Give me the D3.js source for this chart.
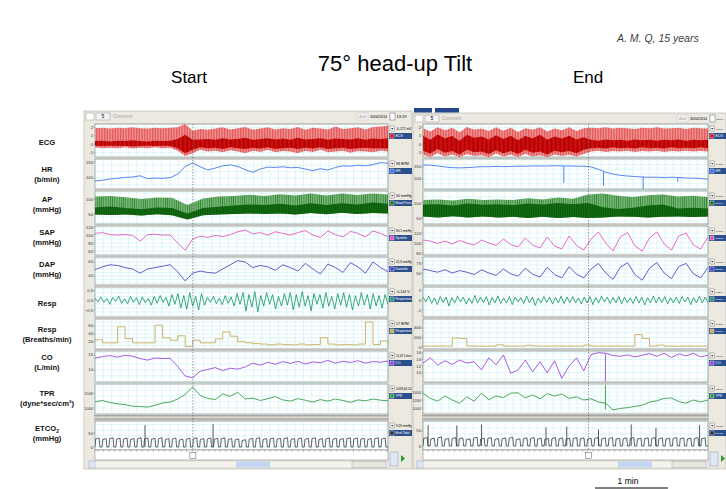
<!DOCTYPE html>
<html>
<head>
<meta charset="utf-8">
<script src="https://cdn.jsdelivr.net/npm/d3@7"></script>
<style>
  body { margin: 0; background: #fff; }
  svg text { font-family: "Liberation Sans", Arial, sans-serif; }
</style>
</head>
<body>
<div id="chart"></div>
<script>
// ---------- values (Start = left window, End = right window) ----------
// time axis, seconds of recording shown as mm:ss
const tickSecsStart = [780, 810, 840, 870, 900, 930, 960, 990, 1020];
const tickLabelsStart = ["13:00", "13:30", "14:00", "14:30", "15:00", "15:30", "16:00", "16:30", "17:00"];
const tickSecsEnd = [1200, 1230, 1260, 1290, 1320, 1350, 1380, 1410, 1440];
const tickLabelsEnd = ["20:00", "20:30", "21:00", "21:30", "22:00", "22:30", "23:00", "23:30", "24:00"];

// ECG envelope (mV): outer beat band and darker core
const ecgHiStart = [1.9, 1.95, 1.85, 1.95, 1.9, 2.0, 1.9, 1.85, 1.95, 1.9, 1.95, 2.0, 2.4, 1.6, 1.8, 1.7, 1.85, 2.0, 1.75, 1.9,
                    2.05, 1.7, 1.85, 2.0, 1.75, 1.9, 1.8, 2.05, 1.7, 1.95, 1.85, 1.75, 2.1, 1.8, 1.9, 2.0, 1.75, 2.05, 2.1, 2.2];
const ecgLoStart = [-0.4, -0.5, -0.45, -0.5, -0.4, -0.55, -0.45, -0.5, -0.4, -0.5, -0.45, -0.8, -1.45, -1.1, -0.7, -0.9, -0.8, -1.0, -0.75, -0.9,
                    -1.1, -0.8, -0.95, -0.7, -1.0, -0.85, -0.9, -1.1, -0.8, -0.95, -0.7, -1.0, -0.9, -0.8, -1.05, -0.85, -0.9, -1.0, -0.8, -0.9];
const ecgCoreHiStart = [0.35, 0.4, 0.3, 0.4, 0.35, 0.45, 0.35, 0.3, 0.4, 0.35, 0.4, 0.6, 1.1, 0.5, 0.55, 0.6, 0.5, 0.7, 0.55, 0.6,
                        0.75, 0.5, 0.6, 0.7, 0.55, 0.65, 0.5, 0.75, 0.55, 0.6, 0.7, 0.5, 0.65, 0.6, 0.55, 0.7, 0.5, 0.65, 0.6, 0.7];
const ecgCoreLoStart = [-0.2, -0.25, -0.2, -0.25, -0.2, -0.3, -0.25, -0.2, -0.25, -0.2, -0.25, -0.5, -1.1, -0.7, -0.4, -0.5, -0.45, -0.6, -0.4, -0.5,
                        -0.6, -0.45, -0.55, -0.4, -0.6, -0.5, -0.45, -0.6, -0.45, -0.55, -0.4, -0.6, -0.5, -0.45, -0.6, -0.5, -0.45, -0.55, -0.5, -0.55];
const ecgHiEnd = [1.9, 1.5, 2.0, 1.65, 1.95, 1.4, 2.05, 1.7, 1.85, 1.55, 2.0, 1.6, 1.95, 1.45, 1.9, 1.7, 2.0, 1.5, 1.85, 1.65,
                  2.0, 1.55, 1.9, 1.95, 1.9, 2.0, 1.85, 1.95, 1.9, 1.8, 1.95, 1.9, 2.0, 1.85, 1.9, 1.95, 1.8, 1.95, 1.9, 1.85];
const ecgLoEnd = [-1.3, -1.55, -1.1, -1.5, -1.25, -1.6, -1.2, -1.45, -1.35, -1.6, -1.15, -1.5, -1.3, -1.55, -1.2, -1.5, -1.35, -1.6, -1.25, -1.45,
                  -1.3, -1.5, -1.2, -0.9, -0.8, -0.95, -0.85, -0.9, -0.8, -0.95, -0.85, -0.9, -0.8, -0.95, -0.85, -0.9, -0.8, -0.9, -0.85, -0.9];
const ecgCoreHiEnd = [1.0, 0.5, 1.15, 0.7, 0.95, 0.4, 1.1, 0.75, 0.9, 0.55, 1.05, 0.6, 1.0, 0.45, 0.95, 0.7, 1.1, 0.5, 0.9, 0.65,
                      1.0, 0.55, 0.8, 0.5, 0.4, 0.55, 0.45, 0.5, 0.4, 0.55, 0.45, 0.5, 0.4, 0.5, 0.45, 0.55, 0.4, 0.5, 0.45, 0.5];
const ecgCoreLoEnd = [-0.8, -1.15, -0.6, -1.05, -0.85, -1.25, -0.7, -1.0, -0.9, -1.2, -0.75, -1.1, -0.85, -1.2, -0.7, -1.05, -0.9, -1.25, -0.8, -1.0,
                      -0.85, -1.1, -0.7, -0.5, -0.45, -0.55, -0.4, -0.5, -0.45, -0.55, -0.4, -0.5, -0.45, -0.55, -0.4, -0.5, -0.45, -0.5, -0.4, -0.5];

// heart rate (b/min)
const hrStart = [91, 93, 97, 99, 102, 103, 107, 98, 100, 99, 101, 112, 136, 147, 135, 125, 131, 138, 141, 136,
                 126, 118, 128, 134, 133, 135, 132, 133, 128, 123, 129, 125, 133, 138, 137, 140, 138, 142, 148, 146];
const hrEnd = [158, 157, 154, 150, 147, 146, 147, 149, 151, 151, 152, 151, 152, 153, 153, 154, 154, 154, 155, 154,
               154, 153, 153, 150, 140, 128, 120, 115, 112, 110, 108, 107, 107, 106, 107, 106, 104, 103, 102, 99];
const hrDipsEnd = [[1322.6, 154, 83], [1359.8, 130, 71], [1397, 109, 58], [1429.5, 106, 88]];

// arterial pressure envelope (mmHg)
const apHiStart = [108, 110, 106, 100, 105, 104, 80, 102, 108, 110, 114, 110, 116, 112, 118, 112, 118, 113, 118, 115];
const apLoStart = [48, 47, 48, 45, 49, 46, 32, 46, 48, 50, 52, 50, 52, 48, 53, 49, 54, 50, 53, 52];
const apCoreStart = [72, 75, 70, 66, 72, 70, 52, 70, 74, 78, 82, 80, 84, 78, 86, 80, 86, 82, 88, 84];
const apHiEnd = [110, 112, 108, 114, 110, 112, 110, 116, 112, 118, 114, 128, 132, 124, 120, 126, 128, 122, 124, 120];
const apLoEnd = [55, 52, 56, 52, 55, 52, 54, 50, 54, 50, 53, 50, 52, 55, 54, 52, 54, 55, 53, 55];
const apCoreEnd = [95, 96, 92, 98, 94, 96, 93, 98, 95, 100, 96, 100, 86, 80, 84, 92, 95, 82, 84, 82];

// systolic / diastolic pressure (mmHg)
const sapStart = [104, 106, 101, 100, 101, 99, 85, 101, 102, 100, 100, 80, 62, 90, 97, 94, 99, 96, 101, 108,
                  112, 103, 106, 100, 108, 104, 100, 106, 111, 100, 94, 110, 101, 95, 109, 104, 95, 110, 104, 96];
const sapEnd = [106, 104, 99, 104, 98, 105, 100, 96, 106, 100, 95, 108, 97, 92, 110, 96, 90, 112, 94, 88,
                114, 95, 86, 108, 122, 100, 84, 112, 121, 94, 84, 110, 122, 98, 86, 114, 120, 96, 88, 112];
const dapStart = [49, 53, 56, 55, 52, 50, 44, 50, 52, 54, 56, 46, 33, 44, 47, 45, 44, 50, 56, 62,
                  60, 52, 55, 53, 48, 56, 52, 47, 58, 50, 43, 57, 52, 45, 59, 53, 44, 60, 52, 46];
const dapEnd = [60, 56, 52, 58, 50, 56, 52, 46, 58, 50, 44, 60, 48, 42, 62, 47, 40, 64, 46, 38,
                66, 47, 38, 60, 74, 50, 34, 64, 76, 46, 32, 62, 76, 50, 36, 66, 74, 48, 38, 64];

// respiration signal (V), successive peaks and troughs
const respStart = [0.12, -0.08, 0.18, -0.12, 0.1, -0.2, 0.15, -0.05, 0.22, -0.15,
                   0.08, -0.18, 0.2, -0.1, 0.14, -0.22, 0.18, -0.12, 0.1, -0.25,
                   0.2, -0.15, 0.25, -0.1, 0.15, -0.3, 0.3, -0.2, 0.35, -0.4,
                   0.25, -0.45, 0.4, -0.3, 0.2, -0.5, 0.35, -0.25, 0.15, -0.1,
                   0.2, -0.18, 0.12, -0.22, 0.25, -0.15, 0.18, -0.3, 0.35, -0.2,
                   0.4, -0.55, 0.3, -0.35, 0.45, -0.6, 0.25, -0.3, 0.4, -0.2,
                   0.3, -0.45, 0.2, -0.3, 0.35, -0.25, 0.4, -0.5, 0.3, -0.35,
                   0.45, -0.3, 0.25, -0.55, 0.35, -0.2, 0.3, -0.4, 0.4, -0.3,
                   0.2, -0.45, 0.35, -0.25, 0.4, -0.35, 0.3, -0.5, 0.25, -0.3,
                   0.4, -0.25, 0.3, -0.45, 0.35, -0.3, 0.25, -0.4, 0.3, -0.2];
const respEnd = [0.3, -0.2, 0.4, -0.35, 0.2, -0.45, 0.35, -0.25, 0.3, -0.6,
                 0.25, -0.3, 0.4, -0.2, 0.3, -0.4, 0.2, -0.35, 0.45, -0.3,
                 0.3, -0.25, 0.35, -0.5, 0.25, -0.3, 0.4, -0.35, 0.2, -0.3,
                 0.35, -0.45, 0.3, -0.2, 0.25, -0.35, 0.4, -0.3, 0.3, -0.55,
                 0.2, -0.3, 0.35, -0.25, 0.3, -0.4, 0.25, -0.3, 0.4, -0.35,
                 0.3, -0.25, 0.35, -0.3, 0.2, -0.4, 0.3, -0.3, 0.35, -0.45,
                 0.25, -0.3, 0.4, -0.2, 0.3, -0.35, 0.25, -0.3, 0.35, -0.4,
                 0.3, -0.25, 0.2, -0.35, 0.35, -0.3, 0.3, -0.5, 0.25, -0.3,
                 0.4, -0.3, 0.3, -0.25, 0.35, -0.4, 0.25, -0.3, 0.3, -0.35,
                 0.35, -0.2, 0.3, -0.45, 0.25, -0.3, 0.4, -0.3, 0.3, -0.25];

// respiratory rate (breaths/min)
const rrStart = [25, 17, 17, 58, 28, 17, 17, 17, 62, 30, 24, 35, 8, 24, 17, 17, 27, 45, 34, 20,
                 17, 15, 14, 12, 14, 13, 12, 14, 12, 13, 30, 14, 12, 13, 12, 14, 70, 13, 22, 14];
const rrEnd = [20, 18, 22, 20, 190, 180, 22, 20, 18, 20, 45, 20, 18, 20, 35, 20, 18, 20, 22, 18,
               20, 20, 40, 20, 18, 20, 22, 18, 20, 260, 180, 20, 40, 20, 18, 20, 22, 18, 20, 22];

// cardiac output (L/min)
const coStart = [13.9, 14.5, 14.8, 14.3, 14.9, 14.6, 13.8, 13.3, 14.0, 13.8, 13.9, 11.2, 8.0, 7.4, 9.6, 10.2, 10.8, 9.8, 10.6, 10.3,
                 11.0, 12.3, 11.6, 12.6, 11.9, 12.8, 12.2, 12.9, 12.0, 12.7, 12.4, 13.2, 12.3, 12.9, 12.5, 13.1, 12.3, 12.8, 12.6, 13.0];
const coEnd = [12.9, 14.5, 12.3, 13.6, 12.5, 13.8, 12.9, 13.3, 10.8, 14.5, 12.4, 15.4, 9.8, 10.8, 13.8, 10.2, 13.3, 9.9, 13.6, 8.2,
               12.0, 14.5, 10.5, 15.5, 16.1, 15.9, 15.2, 15.0, 15.4, 14.8, 15.3, 15.8, 15.0, 15.9, 14.6, 15.7, 15.1, 15.9, 14.8, 15.3];
const coSpikesEnd = [[1361.6, 15.8, 7.2]];

// total peripheral resistance
const tprStart = [1210, 1250, 1180, 1140, 1110, 1060, 1050, 1030, 1090, 1170, 1200, 1300, 1450, 1700, 1420, 1320, 1280, 1470, 1390, 1520,
                  1300, 1330, 1250, 1310, 1380, 1270, 1230, 1310, 1260, 1200, 1280, 1230, 1300, 1250, 1190, 1270, 1240, 1300, 1260, 1240];
const tprEnd = [1370, 1240, 1170, 1300, 1200, 1120, 1280, 1170, 1370, 1210, 1300, 1260, 1370, 1380, 1250, 1330, 1230, 1360, 1300, 1350,
                1240, 1280, 1200, 1230, 1150, 1120, 950, 990, 1010, 1040, 1070, 1150, 1180, 1240, 1250, 1160, 1120, 1200, 1150, 1200];
const tprSpikesEnd = [[1361.6, 1580, 960]];

// end-tidal CO2, plateau of each breath (mmHg), plus tall spikes [sec, mmHg]
const etco2Start = [32, 30, 33, 31, 32, 30, 33, 32, 31, 33, 30, 32, 28, 31, 33, 30, 32, 31, 33, 30, 29,
                    26, 31, 33, 30, 32, 31, 33, 30, 32, 31, 33, 30, 32, 31, 30, 33, 32, 31, 30, 33, 32];
const etco2End = [28, 26, 30, 25, 28, 27, 24, 29, 26, 28, 25, 27, 29, 24, 27, 28, 26, 25, 28, 27,
                  26, 28, 27, 26, 28, 27, 28, 26, 27, 28, 26, 27, 28, 27, 26, 28, 27, 26, 28, 27];
const etco2SpikesStart = [[802.5, 78], [863.7, 82]];
const etco2SpikesEnd = [[1195.4, 70], [1222.3, 68], [1245.5, 72], [1305.9, 62], [1325.4, 65],
                        [1355.1, 55], [1385.8, 72], [1409, 60], [1449.9, 70]];

// legend read-outs beside each channel
const legendStart = [["-0,172 mV", "ECG"], ["98 BPM", "HR"], ["50 mmHg", "Blood Press"], ["84,1 mmHg", "Systolic"],
                     ["41,6 mmHg", "Diastolic"], ["-0,144 V", "Respiration"], ["17 BPM", "Respiration"],
                     ["11,47 L/min", "CO"], ["1093,64 20", "TPR"], ["9,29 mmHg", "End Tidal"]];
const legendEnd = [["0,503 mV", "ECG"], ["149 BPM", "HR"], ["50 mmHg", "Blood Pr"], ["96,7 mmHg", "Systolic"],
                   ["75,8 mmHg", "Diastolic"], ["0,527 V", "Respiration"], ["16 BPM", "Respiration"],
                   ["16,75 L/min", "CO"], ["1171,84", "TPR"], ["36,23 mmHg", "End Tidal"]];

// ---------- layout ----------
const rows = [
  {key: "ecg",   y0: 124, y1: 157, ly: 142, label: ["ECG"],                  color: "#d01010", dom: [[2.4, -1.56], [2.4, -1.56]], ticks: [[2, 1, 0, -1], [2, 1, 0, -1]]},
  {key: "hr",    y0: 159, y1: 189, ly: 174, label: ["HR", "(b/min)"],        color: "#3f6ff0", dom: [[159.4, 65.6], [183, 58]], ticks: [[150, 100], [150, 100]]},
  {key: "ap",    y0: 191, y1: 224, ly: 204, label: ["AP", "(mmHg)"],         color: "#0d650d", dom: [[126.7, 16.7], [140, 30]], ticks: [[100, 50], [100, 50]]},
  {key: "sap",   y0: 226, y1: 255, ly: 237, label: ["SAP", "(mmHg)"],        color: "#e050c0", dom: [[122.5, 50], [134, 76]], ticks: [[120, 100, 80, 60], [120, 100, 80]]},
  {key: "dap",   y0: 257, y1: 285, ly: 269, label: ["DAP", "(mmHg)"],        color: "#4b3fc8", dom: [[67.1, 27.1], [90, 20]], ticks: [[60, 40], [75, 50]]},
  {key: "resp",  y0: 287, y1: 317, ly: 303, label: ["Resp"],                 color: "#1a9a6a", dom: [[0.69, -0.86], [1.3, -1.7]], ticks: [[0.5, 0, -0.5], [1, 0, -1]]},
  {key: "rr",    y0: 319, y1: 349, ly: 334, label: ["Resp", "(Breaths/min)"], color: "#c9a650", dom: [[77.8, 1.4], [589, -42]], ticks: [[60, 40, 20], [400, 200, 0]]},
  {key: "co",    y0: 351, y1: 382, ly: 362, label: ["CO", "(L/min)"],        color: "#9a3fe0", dom: [[16.33, 6], [16.6, 7.1]], ticks: [[15, 10], [16, 14, 12, 10]]},
  {key: "tpr",   y0: 384, y1: 414, ly: 398, label: ["TPR", "(dyne*sec/cm\u00b2)"], color: "#2e9a3e", dom: [[1800, 800], [1600, 850]], ticks: [[1500, 1000], [1400, 1200, 1000]]},
  {key: "etco2", y0: 421, y1: 450, ly: 433, label: ["ETCO", "(mmHg)"],       color: "#303030", dom: [[92.9, -10.7], [83.3, -13.3]], ticks: [[50, 0], [50, 0]]}
];

const panels = [
  {x0: 95, x1: 388, t0: 757.5, t1: 1021, wx0: 84, wx1: 412, wy0: 111, toolY: 113, legendX: 389, cursor: 845.5,
   thumb: [236, 270], clock: "13:19", ticks: tickSecsStart, tickLabels: tickLabelsStart, legend: legendStart,
   ecg: [ecgHiStart, ecgLoStart, ecgCoreHiStart, ecgCoreLoStart], ap: [apHiStart, apLoStart, apCoreStart],
   hr: hrStart, sap: sapStart, dap: dapStart, resp: respStart, rr: rrStart, co: coStart, tpr: tprStart,
   etco2: etco2Start, etco2Spikes: etco2SpikesStart, dips: {hr: [], co: [], tpr: []}},
  {x0: 423, x1: 708, t0: 1190.6, t1: 1457.8, wx0: 413, wx1: 726, wy0: 113, toolY: 115, legendX: 709, cursor: 1345.8,
   thumb: [618, 652], clock: "22:24,5", ticks: tickSecsEnd, tickLabels: tickLabelsEnd, legend: legendEnd,
   ecg: [ecgHiEnd, ecgLoEnd, ecgCoreHiEnd, ecgCoreLoEnd], ap: [apHiEnd, apLoEnd, apCoreEnd],
   hr: hrEnd, sap: sapEnd, dap: dapEnd, resp: respEnd, rr: rrEnd, co: coEnd, tpr: tprEnd,
   etco2: etco2End, etco2Spikes: etco2SpikesEnd, dips: {hr: hrDipsEnd, co: coSpikesEnd, tpr: tprSpikesEnd}}
];

const svg = d3.select("#chart").append("svg")
  .attr("width", 726)
  .attr("height", 489);

const defs = svg.append("defs");

// stripe textures for the dense ECG and AP beats
function stripes(id, bg, fg, w) {
  const pat = defs.append("pattern").attr("id", id)
    .attr("patternUnits", "userSpaceOnUse").attr("width", w).attr("height", 10);
  pat.append("rect").attr("width", w).attr("height", 10).attr("fill", bg);
  pat.append("rect").attr("width", 0.7).attr("height", 10).attr("fill", fg);
}
stripes("ecgLight", "#f29a9a", "#e04848", 1.6);
stripes("ecgDark", "#d41414", "#b00000", 1.3);
stripes("apLight", "#74b474", "#2f852f", 2.2);
stripes("apDark", "#127012", "#0a500a", 1.8);

// shrink a small text until it fits the room it has (the windows are narrow)
function fit(sel, maxW) {
  const w = sel.node().getComputedTextLength();
  if (w > maxW) {
    const fs = parseFloat(sel.attr("font-size") || sel.node().parentNode.getAttribute("font-size"));
    sel.attr("font-size", (fs * maxW / w).toFixed(2));
  }
  return sel;
}

// ---------- titles ----------
svg.append("text").attr("x", 617).attr("y", 42)
  .attr("font-size", 10.5).attr("font-style", "italic").attr("fill", "#404040")
  .text("A. M. Q, 15 years");
svg.append("text").attr("x", 395).attr("y", 71)
  .attr("text-anchor", "middle").attr("font-size", 22)
  .text("75\u00b0 head-up Tilt");
svg.append("text").attr("x", 189).attr("y", 83)
  .attr("text-anchor", "middle").attr("font-size", 17).text("Start");
svg.append("text").attr("x", 588).attr("y", 83)
  .attr("text-anchor", "middle").attr("font-size", 17).text("End");

// channel names on the far left
rows.forEach(r => {
  const t = svg.append("text")
    .attr("x", 47)
    .attr("text-anchor", "middle")
    .attr("font-size", 7.6)
    .attr("font-weight", "bold")
    .attr("fill", "#111");
  const first = r.label.length === 1 ? r.ly + 2.5 : r.ly - 2;
  t.append("tspan").attr("x", 47).attr("y", first).text(r.label[0]);
  if (r.key === "etco2") {
    t.append("tspan").attr("font-size", 5).attr("dy", 1.5).text("2");
  }
  if (r.label.length > 1) {
    t.append("tspan").attr("x", 47).attr("y", first + 10).text(r.label[1]);
  }
});

// ---------- the two recording windows ----------
panels.forEach((p, pi) => {
  const g = svg.append("g");
  const x = d3.scaleLinear().domain([p.t0, p.t1]).range([p.x0, p.x1]);
  const times = n => d3.range(n).map(i => p.t0 + i * (p.t1 - p.t0) / (n - 1));
  const room = xx => p.wx1 - xx - (pi === 1 ? 3 : 0.5);   // text room up to the window (or page) edge

  // window frame
  g.append("rect").attr("x", p.wx0).attr("y", p.wy0)
    .attr("width", p.wx1 - p.wx0).attr("height", 469 - p.wy0)
    .attr("fill", "#ebe9e0").attr("stroke", "#b0aea4").attr("stroke-width", 0.6);

  if (pi === 1) {
    g.append("rect").attr("x", 414).attr("y", 108).attr("width", 18).attr("height", 4.5).attr("fill", "#23478a");
    g.append("rect").attr("x", 435).attr("y", 108).attr("width", 24).attr("height", 4.5).attr("fill", "#23478a");
  }

  // toolbar
  const ty = p.toolY;
  g.append("rect").attr("x", p.wx0 + 2).attr("y", ty).attr("width", 8).attr("height", 7)
    .attr("fill", "#fff").attr("stroke", "#999").attr("stroke-width", 0.5);
  g.append("rect").attr("x", p.wx0 + 12).attr("y", ty).attr("width", 14).attr("height", 7)
    .attr("fill", "#f4f4f4").attr("stroke", "#999").attr("stroke-width", 0.5);
  g.append("text").attr("x", p.wx0 + 19).attr("y", ty + 5.3).attr("text-anchor", "middle")
    .attr("font-size", 5).text("5");
  g.append("text").attr("x", p.wx0 + 29).attr("y", ty + 5.3).attr("font-size", 4.5)
    .attr("fill", "#a8a8a8").text("Comment");
  g.append("rect").attr("x", p.x1 - 31).attr("y", ty).attr("width", 11).attr("height", 7)
    .attr("fill", "#f2f1ec").attr("stroke", "#c8c8c8").attr("stroke-width", 0.5);
  g.append("text").attr("x", p.x1 - 25.5).attr("y", ty + 5).attr("text-anchor", "middle")
    .attr("font-size", 4).attr("fill", "#aaa").text("Add");
  fit(g.append("text").attr("x", p.x1 - 18).attr("y", ty + 5).attr("font-size", 4).text("30/04/2014"), 17);
  g.append("rect").attr("x", p.x1 + 2).attr("y", ty).attr("width", 5).attr("height", 7)
    .attr("fill", "#fff").attr("stroke", "#666").attr("stroke-width", 0.5);
  fit(g.append("text").attr("x", p.x1 + 8.5).attr("y", ty + 5).attr("font-size", 4).text(p.clock), room(p.x1 + 8.5));

  const clipId = "clip" + pi;
  defs.append("clipPath").attr("id", clipId).append("rect")
    .attr("x", p.x0).attr("y", 120).attr("width", p.x1 - p.x0).attr("height", 332);

  // separator between TPR and ETCO2
  g.append("rect").attr("x", p.x0 - 1).attr("y", 414.5).attr("width", p.x1 - p.x0 + 2).attr("height", 6)
    .attr("fill", "#dcdad2");
  [415.8, 419].forEach(yy => g.append("line").attr("x1", p.x0 - 1).attr("x2", p.x1 + 1)
    .attr("y1", yy).attr("y2", yy).attr("stroke", "#6f6f6f").attr("stroke-width", 0.7));

  rows.forEach((r, ri) => {
    const y = d3.scaleLinear().domain(r.dom[pi]).range([r.y0, r.y1]);
    r.yScale = r.yScale || [];
    r.yScale[pi] = y;

    // channel box and grid
    g.append("rect").attr("x", p.x0).attr("y", r.y0).attr("width", p.x1 - p.x0).attr("height", r.y1 - r.y0)
      .attr("fill", "#fff").attr("stroke", "#8a8a8a").attr("stroke-width", 0.8);
    const grid = g.append("g").attr("stroke", "#bdecf0").attr("stroke-width", 0.5);
    d3.range(Math.ceil(p.t0 / 7.5) * 7.5, p.t1, 7.5).forEach(t => {
      grid.append("line").attr("x1", x(t)).attr("x2", x(t)).attr("y1", r.y0 + 0.5).attr("y2", r.y1 - 0.5);
    });
    y.ticks(6).forEach(v => {
      grid.append("line").attr("x1", p.x0).attr("x2", p.x1).attr("y1", y(v)).attr("y2", y(v));
    });

    // y axis tick labels
    const ax = g.append("g").attr("font-size", 4.2).attr("fill", "#333");
    r.ticks[pi].forEach(v => {
      ax.append("line").attr("x1", p.x0 - 1.5).attr("x2", p.x0).attr("y1", y(v)).attr("y2", y(v))
        .attr("stroke", "#555").attr("stroke-width", 0.4);
      fit(ax.append("text").attr("x", p.x0 - 2).attr("y", y(v) + 1.5).attr("text-anchor", "end").attr("font-size", 4.2)
        .text(r.key === "resp" && pi === 0 ? d3.format(".1f")(v).replace(".", ",") : String(v)), 8.5);
    });

    // legend block
    const lg = g.append("g");
    const [val, name] = p.legend[ri];
    lg.append("rect").attr("x", p.legendX + 1).attr("y", r.y0 + 2).attr("width", 4.5).attr("height", 5)
      .attr("fill", "#fff").attr("stroke", "#555").attr("stroke-width", 0.4);
    lg.append("path").attr("d", `M${p.legendX + 2},${r.y0 + 4}h2.5l-1.25,1.6z`).attr("fill", "#222");
    fit(lg.append("text").attr("x", p.legendX + 7).attr("y", r.y0 + 6.3).attr("font-size", 3.6).text(val),
        room(p.legendX + 7));
    lg.append("rect").attr("x", p.legendX).attr("y", r.y0 + 9).attr("width", Math.min(23, p.wx1 - p.legendX))
      .attr("height", 6).attr("fill", "#2b4f8c");
    lg.append("rect").attr("x", p.legendX + 1).attr("y", r.y0 + 10).attr("width", 4).attr("height", 4)
      .attr("fill", r.key === "ecg" ? "#e01010" : r.key === "ap" ? "#1c7a1c" : r.color)
      .attr("stroke", "#fff").attr("stroke-width", 0.4);
    fit(lg.append("text").attr("x", p.legendX + 6.5).attr("y", r.y0 + 13.4).attr("font-size", 3.4)
      .attr("fill", "#fff").text(name), room(p.legendX + 6.5));
  });

  const plot = g.append("g").attr("clip-path", `url(#${clipId})`);
  const Y = key => rows.find(r => r.key === key).yScale[pi];

  // banded channels: light beat band with a darker core
  const band = (hi, lo, key) => {
    const ts = times(hi.length), y = Y(key);
    return d3.area().x((d, i) => x(ts[i])).y0((d, i) => y(lo[i])).y1(d => y(d))(hi);
  };
  plot.append("path").attr("d", band(p.ecg[0], p.ecg[1], "ecg")).attr("fill", "url(#ecgLight)");
  plot.append("path").attr("d", band(p.ecg[2], p.ecg[3], "ecg")).attr("fill", "url(#ecgDark)");
  plot.append("path").attr("d", band(p.ap[0], p.ap[1], "ap")).attr("fill", "url(#apLight)");
  plot.append("path").attr("d", band(p.ap[2], p.ap[1], "ap")).attr("fill", "url(#apDark)");

  // line channels
  const trace = (key, values, curve) => {
    const ts = times(values.length), y = Y(key);
    const color = rows.find(r => r.key === key).color;
    plot.append("path")
      .attr("d", d3.line().x((d, i) => x(ts[i])).y(d => y(d)).curve(curve || d3.curveLinear)(values))
      .attr("fill", "none").attr("stroke", color).attr("stroke-width", 0.85);
    (p.dips[key] || []).forEach(([t, a, b]) => {
      plot.append("line").attr("x1", x(t)).attr("x2", x(t)).attr("y1", y(a)).attr("y2", y(b))
        .attr("stroke", color).attr("stroke-width", 0.9);
    });
  };
  trace("hr", p.hr);
  trace("sap", p.sap);
  trace("dap", p.dap);
  trace("resp", p.resp);
  trace("rr", p.rr, d3.curveStepAfter);
  trace("co", p.co);
  trace("tpr", p.tpr);

  // ETCO2: one square-ish capnogram cycle per breath
  const ye = Y("etco2");
  const dt = (p.t1 - p.t0) / p.etco2.length;
  const capPts = [];
  p.etco2.forEach((v, i) => {
    const s = p.t0 + i * dt;
    capPts.push([s, 0], [s + dt * 0.1, v * 0.9], [s + dt * 0.6, v], [s + dt * 0.7, 0]);
  });
  capPts.push([p.t1, 0]);
  plot.append("path")
    .attr("d", d3.line().x(d => x(d[0])).y(d => ye(d[1]))(capPts))
    .attr("fill", "none").attr("stroke", "#303030").attr("stroke-width", 0.75);
  p.etco2Spikes.forEach(([t, v]) => {
    plot.append("line").attr("x1", x(t)).attr("x2", x(t)).attr("y1", ye(0)).attr("y2", ye(v))
      .attr("stroke", "#303030").attr("stroke-width", 0.8);
  });

  // cursor at the tilt event
  g.append("line").attr("x1", x(p.cursor)).attr("x2", x(p.cursor)).attr("y1", 124).attr("y2", 451)
    .attr("stroke", "#555").attr("stroke-width", 0.6).attr("stroke-dasharray", "1.5,1.5");

  // time axis
  g.append("rect").attr("x", p.x0).attr("y", 450).attr("width", p.x1 - p.x0).attr("height", 10)
    .attr("fill", "#fff").attr("stroke", "#8a8a8a").attr("stroke-width", 0.6);
  const ta = g.append("g").attr("clip-path", `url(#${clipId})`);
  d3.range(Math.ceil(p.t0 / 5) * 5, p.t1, 5).forEach(t => {
    ta.append("line").attr("x1", x(t)).attr("x2", x(t)).attr("y1", 450).attr("y2", t % 30 === 0 ? 453 : 451.5)
      .attr("stroke", "#444").attr("stroke-width", 0.4);
  });
  p.ticks.forEach((t, i) => {
    ta.append("text").attr("x", x(t)).attr("y", 457.5).attr("text-anchor", "middle")
      .attr("font-size", 4.2).attr("fill", "#333").text(p.tickLabels[i]);
  });
  g.append("rect").attr("x", x(p.cursor) - 3).attr("y", 452.5).attr("width", 6).attr("height", 6)
    .attr("fill", "#fff").attr("stroke", "#555").attr("stroke-width", 0.5);

  // scroll bar
  g.append("rect").attr("x", p.x0 - 6).attr("y", 461).attr("width", p.x1 - p.x0 + 6).attr("height", 7)
    .attr("fill", "#f3f2ec").attr("stroke", "#c4c2b8").attr("stroke-width", 0.5);
  g.append("rect").attr("x", p.x0 - 6).attr("y", 461).attr("width", 6).attr("height", 7)
    .attr("fill", "#dfe7f5").attr("stroke", "#9fb3d6").attr("stroke-width", 0.5);
  g.append("rect").attr("x", p.thumb[0]).attr("y", 461.5).attr("width", p.thumb[1] - p.thumb[0]).attr("height", 6)
    .attr("fill", "#c3d5f2");
  g.append("rect").attr("x", p.x1 - 36).attr("y", 461.5).attr("width", 34).attr("height", 6)
    .attr("fill", "#e7e6df").attr("stroke", "#999").attr("stroke-width", 0.4);
  g.append("rect").attr("x", p.legendX + 1).attr("y", 452).attr("width", 8).attr("height", 14)
    .attr("fill", "#dde6f2").attr("stroke", "#8aa0c0").attr("stroke-width", 0.5);
  g.append("path").attr("d", `M${p.legendX + 12},455l4,3.5l-4,3.5z`).attr("fill", "#2c9a2c");
});

// ---------- scale bar ----------
svg.append("text").attr("x", 628).attr("y", 484).attr("text-anchor", "middle")
  .attr("font-size", 8.5).text("1 min");
svg.append("line").attr("x1", 595).attr("x2", 668).attr("y1", 488).attr("y2", 488)
  .attr("stroke", "#000").attr("stroke-width", 1);
</script>
</body>
</html>
